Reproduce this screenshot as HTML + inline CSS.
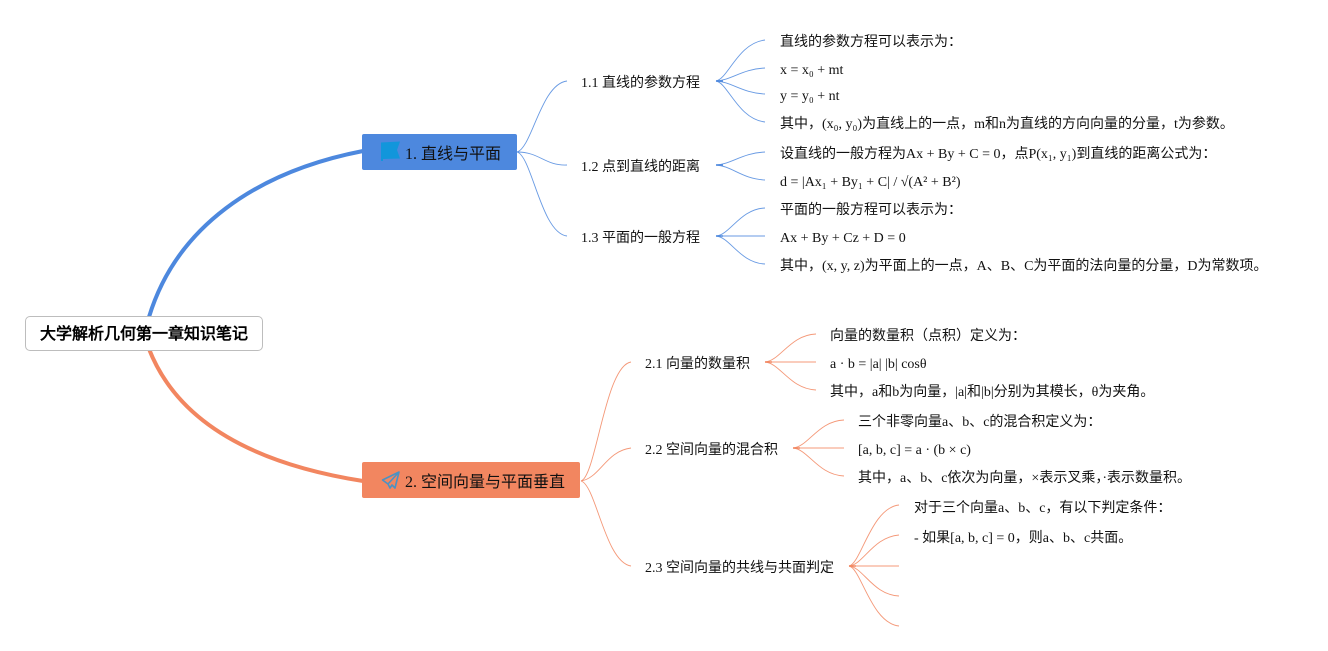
<!DOCTYPE html>
<html>
<head>
<meta charset="utf-8">
<title>大学解析几何第一章知识笔记</title>
<style>
html,body{margin:0;padding:0;background:#fff;}
#c{position:relative;width:1328px;height:651px;overflow:hidden;background:#fff;font-family:"Liberation Serif",serif;color:#111;}
#c svg{position:absolute;left:0;top:0;}
.t{position:absolute;white-space:nowrap;font-size:14px;line-height:20px;height:20px;}
.box{position:absolute;border-radius:2px;box-sizing:border-box;}
</style>
</head>
<body>
<div id="c">
<svg width="1328" height="651" viewBox="0 0 1328 651" fill="none">
  <path d="M149 317C176 228 255 172 363 151" stroke="#4d88de" stroke-width="4"/>
  <path d="M149 349C178 423 255 464 363 481" stroke="#f28660" stroke-width="4"/>
  <g stroke="#4d88de" stroke-width="0.9" stroke-opacity="0.85">
    <path d="M517 152C532 148 541 84 567 81"/>
    <path d="M517 152C540 152 545 166 567 165"/>
    <path d="M517 152C532 156 541 233 567 236"/>
    <path d="M716 81C728 79 738 43 765 40"/>
    <path d="M716 81C732 80 742 69 765 68"/>
    <path d="M716 81C732 82 742 93 765 94"/>
    <path d="M716 81C728 83 738 119 765 122"/>
    <path d="M716 165C732 164 742 153 765 152"/>
    <path d="M716 165C732 166 742 179 765 180"/>
    <path d="M716 236C730 235 740 209 765 208"/>
    <path d="M716 236L765 236"/>
    <path d="M716 236C730 237 740 263 765 264"/>
  </g>
  <g stroke="#4d88de" stroke-width="1.6">
    <path d="M716 81H723M716 165H723M716 236H723"/>
  </g>
  <g stroke="#f28660" stroke-width="0.9" stroke-opacity="0.85">
    <path d="M581 481C596 477 605 366 631 362"/>
    <path d="M581 481C600 478 606 451 631 448"/>
    <path d="M581 481C596 485 605 562 631 566"/>
    <path d="M765 362C780 361 790 335 816 334"/>
    <path d="M765 362L816 362"/>
    <path d="M765 362C780 363 790 389 816 390"/>
    <path d="M793 448C808 447 818 421 844 420"/>
    <path d="M793 448L844 448"/>
    <path d="M793 448C808 449 818 475 844 476"/>
    <path d="M849 566C861 564 871 508 899 505"/>
    <path d="M849 566C863 565 873 537 899 535"/>
    <path d="M849 566L899 566"/>
    <path d="M849 566C863 567 873 595 899 596"/>
    <path d="M849 566C861 568 871 623 899 626"/>
  </g>
  <g stroke="#f28660" stroke-width="1.6">
    <path d="M765 362H772M793 448H800M849 566H856"/>
  </g>
</svg>

<div class="box" style="left:25px;top:316px;width:238px;height:35px;background:#fff;border:1px solid #bdbdbd;border-radius:5px;"></div>
<div class="t" style="left:40px;top:325px;font-size:16px;font-weight:bold;color:#000;">大学解析几何第一章知识笔记</div>

<div class="box" style="left:362px;top:134px;width:155px;height:36px;background:#4d88de;"></div>
<svg width="1328" height="651" viewBox="0 0 1328 651">
  <path d="M381 142.500L400 141.500L397 150L400 158.500L383 159V161H381Z" fill="#1296db"/>
</svg>
<div class="t" style="left:405px;top:145px;font-size:16px;">1. 直线与平面</div>

<div class="box" style="left:362px;top:462px;width:218px;height:36px;background:#f28660;"></div>
<svg width="1328" height="651" viewBox="0 0 1328 651" fill="none">
  <path d="M399 472L382.500 480L388 484L390 488L392 485L395 488ZM399 472L388 484" stroke="#4b92c4" stroke-width="1.6" stroke-linejoin="round"/>
</svg>
<div class="t" style="left:405px;top:473px;font-size:16px;">2. 空间向量与平面垂直</div>

<div class="t" style="left:581px;top:74px;">1.1 直线的参数方程</div>
<div class="t" style="left:581px;top:158px;">1.2 点到直线的距离</div>
<div class="t" style="left:581px;top:229px;">1.3 平面的一般方程</div>

<div class="t" style="left:780px;top:33px;">直线的参数方程可以表示为：</div>
<div class="t" style="left:780px;top:61px;">x = x₀ + mt</div>
<div class="t" style="left:780px;top:87px;">y = y₀ + nt</div>
<div class="t" style="left:780px;top:115px;">其中，(x₀, y₀)为直线上的一点，m和n为直线的方向向量的分量，t为参数。</div>
<div class="t" style="left:780px;top:145px;">设直线的一般方程为Ax + By + C = 0，点P(x₁, y₁)到直线的距离公式为：</div>
<div class="t" style="left:780px;top:173px;">d = |Ax₁ + By₁ + C| / √(A² + B²)</div>
<div class="t" style="left:780px;top:201px;">平面的一般方程可以表示为：</div>
<div class="t" style="left:780px;top:229px;">Ax + By + Cz + D = 0</div>
<div class="t" style="left:780px;top:257px;">其中，(x, y, z)为平面上的一点，A、B、C为平面的法向量的分量，D为常数项。</div>

<div class="t" style="left:645px;top:355px;">2.1 向量的数量积</div>
<div class="t" style="left:645px;top:441px;">2.2 空间向量的混合积</div>
<div class="t" style="left:645px;top:559px;">2.3 空间向量的共线与共面判定</div>

<div class="t" style="left:830px;top:327px;">向量的数量积（点积）定义为：</div>
<div class="t" style="left:830px;top:355px;">a · b = |a| |b| cosθ</div>
<div class="t" style="left:830px;top:383px;">其中，a和b为向量，|a|和|b|分别为其模长，θ为夹角。</div>
<div class="t" style="left:858px;top:413px;">三个非零向量a、b、c的混合积定义为：</div>
<div class="t" style="left:858px;top:441px;">[a, b, c] = a · (b × c)</div>
<div class="t" style="left:858px;top:469px;">其中，a、b、c依次为向量，×表示叉乘，·表示数量积。</div>
<div class="t" style="left:914px;top:499px;">对于三个向量a、b、c，有以下判定条件：</div>
<div class="t" style="left:914px;top:529px;">- 如果[a, b, c] = 0，则a、b、c共面。</div>
</div>
</body>
</html>
